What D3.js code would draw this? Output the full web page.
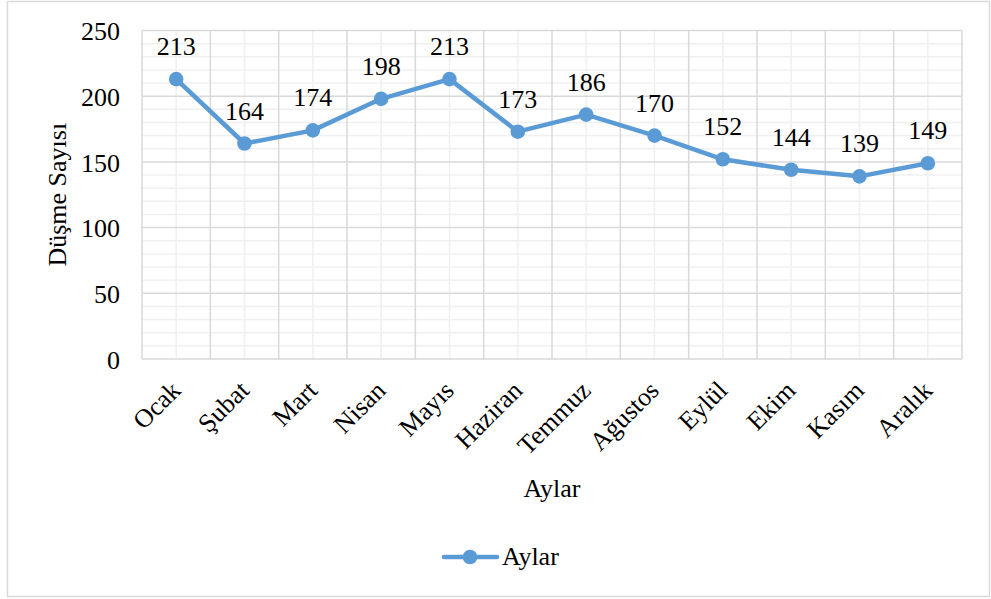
<!DOCTYPE html>
<html><head><meta charset="utf-8">
<script src="https://cdn.jsdelivr.net/npm/d3@7"></script>
<style>body{margin:0;background:#fff}svg{display:block}</style>
</head><body>
<script>
const categories = ["Ocak","Şubat","Mart","Nisan","Mayıs","Haziran","Temmuz","Ağustos","Eylül","Ekim","Kasım","Aralık"];
const values = [213,164,174,198,213,173,186,170,152,144,139,149];
const yTicks = [0,50,100,150,200,250];
const seriesName = "Aylar";
const xTitle = "Aylar";
const yTitle = "Düşme Sayısı";

const W=991,H=599;
const FONT="'Liberation Serif'";
const FS="26px";
const svg=d3.select("body").append("svg").attr("width",W).attr("height",H);
svg.append("rect").attr("x",7.5).attr("y",1.5).attr("width",982).attr("height",595).attr("fill","#fff").attr("stroke","#d9d9d9").attr("stroke-width",1.5);

const L=142,R=962,T=30.5,B=359;
const x=d3.scaleBand().domain(categories).range([L,R]);
const y=d3.scaleLinear().domain([0,250]).range([B,T]);
const g=svg.append("g");
for(let v=10;v<250;v+=10){ if(v%50) g.append("line").attr("x1",L).attr("x2",R).attr("y1",y(v)).attr("y2",y(v)).attr("stroke","#f0f0f0").attr("stroke-width",1.5); }
categories.forEach(c=>{const cx=x(c)+x.bandwidth()/2; g.append("line").attr("x1",cx).attr("x2",cx).attr("y1",T).attr("y2",B).attr("stroke","#f0f0f0").attr("stroke-width",1.5);});
yTicks.forEach(v=>g.append("line").attr("x1",L).attr("x2",R).attr("y1",y(v)).attr("y2",y(v)).attr("stroke","#d9d9d9").attr("stroke-width",1.5));
categories.forEach(c=>g.append("line").attr("x1",x(c)).attr("x2",x(c)).attr("y1",T).attr("y2",B).attr("stroke","#d9d9d9").attr("stroke-width",1.5));
g.append("line").attr("x1",R).attr("x2",R).attr("y1",T).attr("y2",B).attr("stroke","#d9d9d9").attr("stroke-width",1.5);

const yAxis=d3.axisLeft(y).tickValues(yTicks).tickSize(0).tickPadding(22);
const ya=svg.append("g").attr("transform",`translate(${L},0)`).call(yAxis);
ya.attr("font-family","Liberation Serif").attr("font-size",26);
ya.select(".domain").remove();
ya.selectAll("text").style("font-family",FONT).style("font-size",FS).attr("fill","#000").attr("dy","0.35em");

const xa=svg.append("g").attr("transform",`translate(0,${B})`).call(d3.axisBottom(x).tickSize(0).tickFormat(d=>d));
xa.attr("font-family","Liberation Serif").attr("font-size",26);
xa.select(".domain").remove();
xa.selectAll("text").style("font-family",FONT).style("font-size",FS).attr("fill","#000")
  .attr("text-anchor","end").attr("dy",0).attr("y",0)
  .attr("transform","translate(6,33) rotate(-45)");

const cx=c=>x(c)+x.bandwidth()/2;
svg.append("path").datum(values).attr("fill","none").attr("stroke","#5b9bd5").attr("stroke-width",4.5).attr("stroke-linejoin","round")
  .attr("d",d3.line().x((d,i)=>cx(categories[i])).y(d=>y(d)));
svg.selectAll("circle.pt").data(values).join("circle").attr("class","pt").attr("cx",(d,i)=>cx(categories[i])).attr("cy",d=>y(d)).attr("r",7.3).attr("fill","#5b9bd5");
svg.selectAll("text.lbl").data(values).join("text").attr("class","lbl").attr("x",(d,i)=>cx(categories[i])).attr("y",d=>y(d)-24).attr("text-anchor","middle").style("font-family",FONT).style("font-size",FS).attr("fill","#000").text(d=>d);

svg.append("text").attr("x",(L+R)/2).attr("y",497).attr("text-anchor","middle").style("font-family",FONT).style("font-size",FS).attr("fill","#000").text(xTitle);
svg.append("text").attr("transform",`translate(66,${(T+B)/2}) rotate(-90)`).attr("text-anchor","middle").style("font-family",FONT).style("font-size",FS).attr("fill","#000").text(yTitle);

const lg=svg.append("g");
lg.append("line").attr("x1",444).attr("x2",497).attr("y1",557).attr("y2",557).attr("stroke","#5b9bd5").attr("stroke-width",4.5).attr("stroke-linecap","round");
lg.append("circle").attr("cx",470).attr("cy",557).attr("r",7.3).attr("fill","#5b9bd5");
lg.append("text").attr("x",502).attr("y",565).style("font-family",FONT).style("font-size",FS).attr("fill","#000").text(seriesName);
</script>
</body></html>
